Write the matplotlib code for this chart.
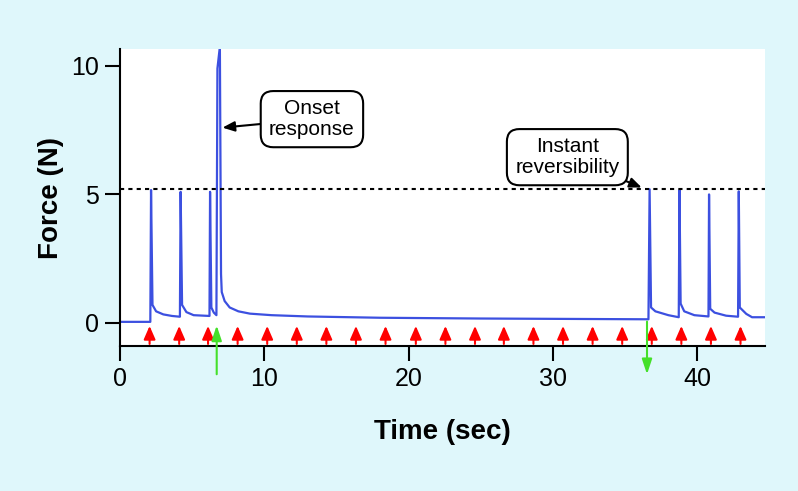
import matplotlib.pyplot as plt

plt.rcParams['font.family'] = ['Liberation Sans', 'DejaVu Sans']

# Force trace (time in sec, force in N)
time = [0.0, 2.1, 2.15, 2.25, 2.5, 3.0, 3.6, 4.15,
        4.2, 4.3, 4.6, 5.1, 6.2,
        6.24, 6.33, 6.5, 6.68,
        6.75, 6.92, 7.0, 7.05, 7.25, 7.6, 8.2, 9.0, 10.5, 13.0, 18.0, 25.0, 36.62,
        36.7, 36.8, 37.1, 38.0, 38.72,
        38.77, 38.85, 39.1, 39.8, 40.78,
        40.82, 40.9, 41.2, 42.0, 42.83,
        42.88, 42.95, 43.4, 43.8, 44.7]
force = [0.04, 0.04, 5.17, 0.7, 0.45, 0.33, 0.27, 0.24,
         5.1, 0.7, 0.42, 0.3, 0.27,
         5.1, 0.6, 0.4, 0.3,
         9.9, 10.75, 1.9, 1.2, 0.85, 0.6, 0.45, 0.36, 0.3, 0.25, 0.2, 0.17, 0.14,
         5.2, 0.6, 0.45, 0.3, 0.22,
         5.17, 0.75, 0.45, 0.3, 0.25,
         5.0, 0.55, 0.4, 0.28, 0.24,
         5.12, 0.6, 0.35, 0.22, 0.22]

# Stimulus times (red arrows)
stim_times = [2.05, 4.1, 6.1, 8.15, 10.2, 12.25, 14.3, 16.35, 18.4, 20.5, 22.55,
              24.6, 26.6, 28.65, 30.7, 32.75, 34.8, 36.85, 38.9, 40.95, 43.0]
onset_time = 6.7      # green arrow up
offset_time = 36.52   # green arrow down
threshold = 5.2

fig = plt.figure(figsize=(7.98, 4.91), dpi=100)
fig.patch.set_facecolor('#dff7fb')
ax = fig.add_axes([0.1504, 0.2953, 0.8083, 0.6049])
ax.set_facecolor('white')

ax.plot(time, force, color='#3c50e0', lw=1.6)
ax.axhline(threshold, color='black', lw=1.5, ls=(0, (2, 2)))

for t in stim_times:
    ax.annotate('', xy=(t, -0.12), xytext=(t, -0.82),
                arrowprops=dict(arrowstyle='-|>,head_length=0.8,head_width=0.35',
                                color='red', lw=1.5, shrinkA=0, shrinkB=0,
                                mutation_scale=10))

green = '#44e02a'
ax.annotate('', xy=(onset_time, -0.1), xytext=(onset_time, -2.0),
            annotation_clip=False,
            arrowprops=dict(arrowstyle='-|>,head_length=0.9,head_width=0.3',
                            color=green, lw=1.5, shrinkA=0, shrinkB=0,
                            mutation_scale=10))
ax.annotate('', xy=(offset_time, -2.0), xytext=(offset_time, 0.05),
            annotation_clip=False,
            arrowprops=dict(arrowstyle='-|>,head_length=0.9,head_width=0.3',
                            color=green, lw=1.5, shrinkA=0, shrinkB=0,
                            mutation_scale=10))

box = dict(boxstyle='round,pad=0.4,rounding_size=0.6', fc='white', ec='black', lw=1.5)
ax.annotate('Onset\nresponse', xy=(7.1, 7.6), xytext=(13.3, 7.93),
            ha='center', va='center', fontsize=15, bbox=box, linespacing=1.1,
            arrowprops=dict(arrowstyle='-|>,head_length=0.6,head_width=0.25',
                            color='black', lw=1.5, shrinkA=0, shrinkB=0,
                            mutation_scale=12))
ax.annotate('Instant\nreversibility', xy=(36.15, 5.27), xytext=(31.0, 6.45),
            ha='center', va='center', fontsize=15, bbox=box, linespacing=1.1,
            arrowprops=dict(arrowstyle='-|>,head_length=0.6,head_width=0.25',
                            color='black', lw=1.5, shrinkA=0, shrinkB=0,
                            mutation_scale=12))

ax.set_xlim(0, 44.7)
ax.set_ylim(-0.9, 10.66)
ax.set_xticks([0, 10, 20, 30, 40])
ax.set_yticks([0, 5, 10])
ax.tick_params(direction='out', length=11, width=1.5, labelsize=18, pad=4)

for s in ['top', 'right']:
    ax.spines[s].set_visible(False)
for s in ['left', 'bottom']:
    ax.spines[s].set_linewidth(1.5)

ax.set_xlabel('Time (sec)', fontsize=20, fontweight='bold')
ax.set_ylabel('Force (N)', fontsize=20, fontweight='bold')
ax.xaxis.set_label_coords(0.5, -0.245)
ax.yaxis.set_label_coords(-0.087, 0.5)

plt.savefig('out.png', facecolor=fig.get_facecolor())
